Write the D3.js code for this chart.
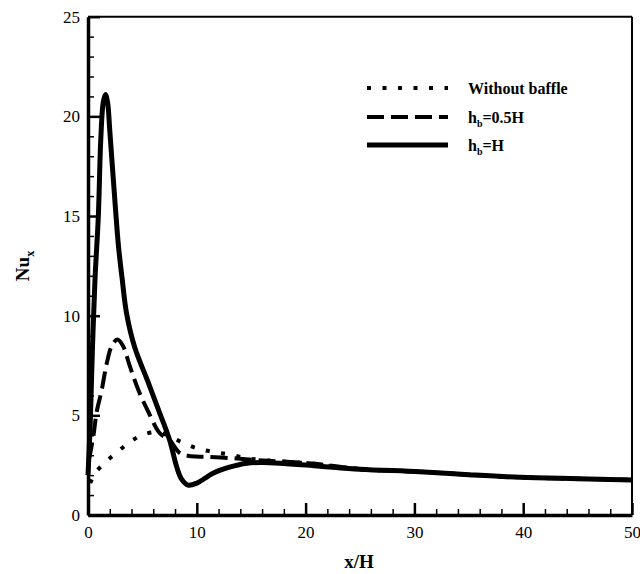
<!DOCTYPE html>
<html>
<head>
<meta charset="utf-8">
<script src="https://cdn.jsdelivr.net/npm/d3@7"></script>
<style>
  body { margin: 0; background: #fff; }
  svg, svg text { font-family: "Liberation Serif", "Times New Roman", serif; }
  svg { display: block; }
</style>
</head>
<body>
<div id="chart"></div>
<script>
/////////// data ///////////
const xTicks = [0, 10, 20, 30, 40, 50];
const yTicks = [0, 5, 10, 15, 20, 25];

// h_b = H (solid)
const fullX = [0, 0.2, 0.4, 0.64, 0.95, 1.17, 1.4, 1.6, 1.8, 2.0, 2.4, 2.8, 3.15, 3.55, 4.3, 5.5, 6.6, 7.5, 8.15, 8.6, 9.2, 10, 11.5, 13, 14.6, 16, 17.6, 21.3, 25, 30.5, 35, 39.7, 45, 50];
const fullY = [2.0, 4.5, 8.2, 11.8, 15.0, 18.8, 20.7, 21.1, 20.7, 19.3, 16.3, 13.5, 11.8, 10.1, 8.4, 6.7, 5.1, 3.76, 2.42, 1.8, 1.5, 1.6, 2.1, 2.4, 2.6, 2.63, 2.6, 2.45, 2.3, 2.17, 2.02, 1.89, 1.82, 1.76];

// h_b = 0.5H (dashed)
const halfX = [0.1, 0.49, 0.8, 1.26, 1.72, 2.2, 2.7, 3.2, 3.86, 4.63, 5.54, 6.6, 7.5, 8.46, 9.5, 10.8, 13, 15.3, 17.3, 20.7, 25, 30.5, 35, 39.7, 45, 50];
const halfY = [2.8, 3.95, 5.18, 6.27, 7.6, 8.5, 8.8, 8.5, 7.44, 6.27, 5.18, 4.1, 3.76, 3.1, 2.95, 2.92, 2.86, 2.76, 2.7, 2.58, 2.3, 2.17, 2.02, 1.89, 1.82, 1.76];

// without baffle (dotted)
const noneX = [0.2, 0.64, 1.56, 2.63, 3.77, 4.96, 6.37, 7.5, 9.0, 10.45, 11.8, 13.2, 14.6, 16, 17.3, 18.8, 20.2, 25, 30.5, 35, 39.7, 45, 50];
const noneY = [1.6, 2.09, 2.63, 3.13, 3.63, 4.01, 4.15, 3.95, 3.55, 3.28, 3.14, 3.01, 2.85, 2.76, 2.7, 2.65, 2.6, 2.3, 2.17, 2.02, 1.89, 1.82, 1.76];

const legendNames = ["Without baffle", "h_b=0.5H", "h_b=H"];

/////////// layout ///////////
const width = 640, height = 574;
const serif = '"Liberation Serif", "Times New Roman", serif';
const x = d3.scaleLinear().domain([0, 50]).range([88, 632]);
const y = d3.scaleLinear().domain([0, 25]).range([515, 16.7]);

const svg = d3.select("#chart").append("svg")
  .attr("width", width)
  .attr("height", height);

const series = [
  { xs: noneX, ys: noneY, width: 4, dash: "4 11.5" },
  { xs: halfX, ys: halfY, width: 4, dash: "17 7" },
  { xs: fullX, ys: fullY, width: 5, dash: null }
];

const line = d3.line()
  .x(d => x(d[0]))
  .y(d => y(d[1]))
  .curve(d3.curveCatmullRom.alpha(0.5));

svg.append("g")
  .selectAll("path")
  .data(series)
  .enter().append("path")
  .attr("d", s => line(s.xs.map((v, i) => [v, s.ys[i]])))
  .attr("fill", "none")
  .attr("stroke", "#000")
  .attr("stroke-width", s => s.width)
  .attr("stroke-dasharray", s => s.dash)
  .attr("stroke-linejoin", "round");

// frame: top and right thin lines
svg.append("line")
  .attr("x1", x(0)).attr("x2", x(50))
  .attr("y1", y(25)).attr("y2", y(25))
  .attr("stroke", "#000").attr("stroke-width", 2);
svg.append("line")
  .attr("x1", x(50)).attr("x2", x(50))
  .attr("y1", y(25)).attr("y2", y(0))
  .attr("stroke", "#000").attr("stroke-width", 2);

// axes, ticks drawn inwards
const xMinor = d3.range(0, 51, 2).filter(v => v % 10 !== 0);
const yMinor = d3.range(0, 26, 1).filter(v => v % 5 !== 0);

const xAxis = svg.append("g")
  .attr("transform", `translate(0,${y(0)})`)
  .call(d3.axisBottom(x).tickValues(xTicks).tickSizeInner(-12).tickSizeOuter(0).tickPadding(20));
const xAxisMinor = svg.append("g")
  .attr("transform", `translate(0,${y(0)})`)
  .call(d3.axisBottom(x).tickValues(xMinor).tickSizeInner(-6).tickSizeOuter(0).tickFormat(""));

const yAxis = svg.append("g")
  .attr("transform", `translate(${x(0)},0)`)
  .call(d3.axisLeft(y).tickValues(yTicks).tickSizeInner(-12).tickSizeOuter(0).tickPadding(20));
const yAxisMinor = svg.append("g")
  .attr("transform", `translate(${x(0)},0)`)
  .call(d3.axisLeft(y).tickValues(yMinor).tickSizeInner(-6).tickSizeOuter(0).tickFormat(""));

[xAxis, yAxis].forEach(g => {
  g.attr("font-family", serif).attr("font-size", 17);
  g.select(".domain").attr("stroke-width", 3.5);
  g.selectAll(".tick line").attr("stroke-width", 2.5);
  g.selectAll("text")
    .style("font-family", serif)
    .attr("font-size", 17)
    .attr("fill", "#000");
});
[xAxisMinor, yAxisMinor].forEach(g => {
  g.select(".domain").remove();
  g.selectAll(".tick line").attr("stroke-width", 1.5);
});
xAxis.selectAll("text").attr("dy", "0.2em");
yAxis.selectAll("text").attr("dx", "12").attr("text-anchor", "end");

// axis titles
svg.append("text")
  .attr("x", 359).attr("y", 568)
  .attr("text-anchor", "middle")
  .attr("font-size", 19).attr("font-weight", "bold")
  .text("x/H");

const yt = svg.append("text")
  .attr("transform", "translate(29,266) rotate(-90)")
  .attr("text-anchor", "middle")
  .attr("font-size", 19).attr("font-weight", "bold");
yt.append("tspan").text("Nu");
yt.append("tspan").attr("font-size", 12).attr("dy", 5).text("x");

/////////// legend ///////////
const legend = svg.append("g");
const legendY = [88, 117, 145];
series.forEach((s, i) => {
  legend.append("line")
    .attr("x1", 367).attr("x2", 448)
    .attr("y1", legendY[i]).attr("y2", legendY[i])
    .attr("stroke", "#000")
    .attr("stroke-width", s.width)
    .attr("stroke-dasharray", s.dash);
  const t = legend.append("text")
    .attr("x", 468).attr("y", legendY[i] + 6)
    .attr("font-size", 16).attr("font-weight", "bold");
  const parts = legendNames[i].split("_");
  if (parts.length === 1) {
    t.text(parts[0]);
  } else {
    t.append("tspan").text(parts[0]);
    t.append("tspan").attr("font-size", 10).attr("dy", 4).text(parts[1][0]);
    t.append("tspan").attr("dy", -4).text(parts[1].slice(1));
  }
});
</script>
</body>
</html>
